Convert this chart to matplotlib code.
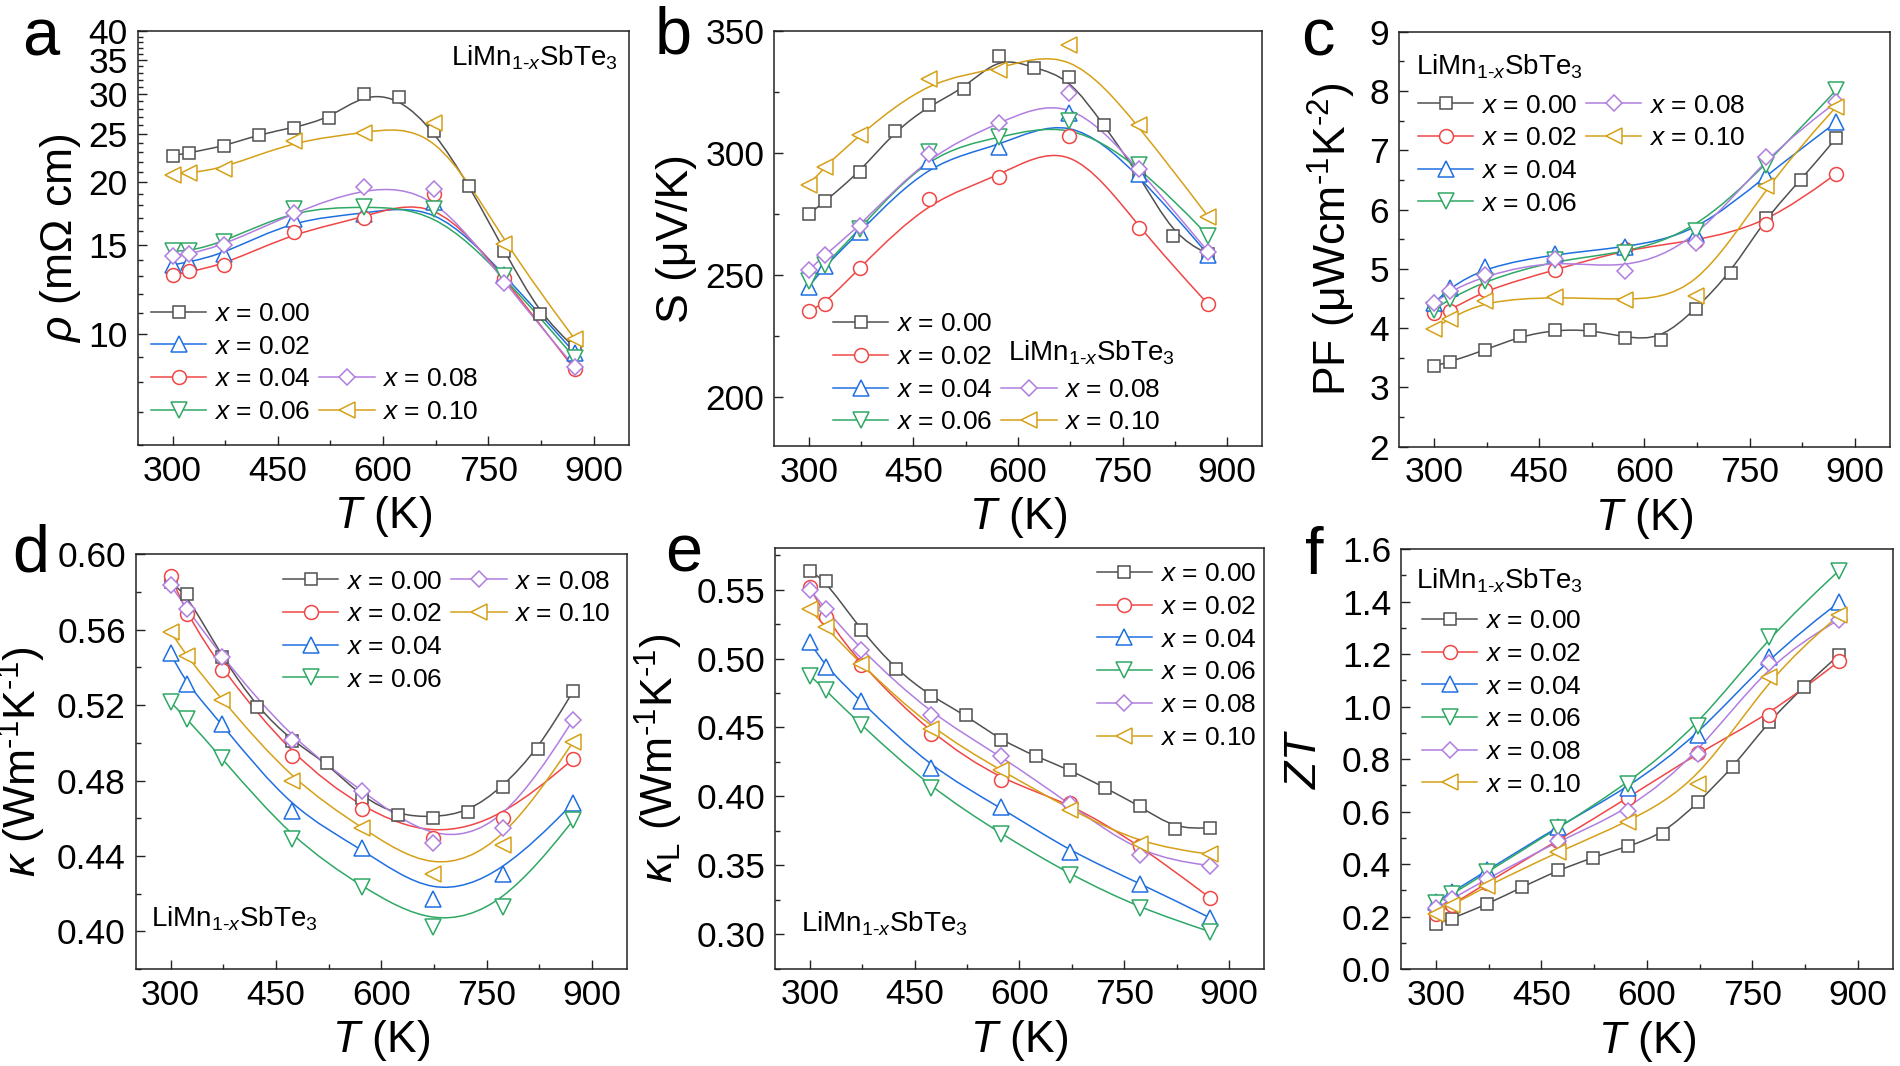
import numpy as np
import matplotlib
matplotlib.use("Agg")
import matplotlib.pyplot as plt
from matplotlib.path import Path
from matplotlib.patches import PathPatch
from matplotlib.lines import Line2D
from matplotlib.ticker import MultipleLocator, FixedLocator, FuncFormatter, NullFormatter

plt.rcParams['font.family'] = ['Liberation Sans', 'DejaVu Sans']
plt.rcParams['mathtext.fontset'] = 'custom'
plt.rcParams['mathtext.rm'] = 'Liberation Sans'
plt.rcParams['mathtext.it'] = 'Liberation Sans:italic'
plt.rcParams['mathtext.bf'] = 'Liberation Sans:bold'
plt.rcParams['mathtext.sf'] = 'Liberation Sans'

# ---------------- data ----------------
T_full = [300, 323, 373, 423, 473, 523, 573, 623, 673, 723, 773, 823, 873]
T_short = [300, 323, 373, 473, 573, 673, 773, 873]
x_labels = ["0.00", "0.02", "0.04", "0.06", "0.08", "0.10"]

# (a) resistivity, mOhm cm  (legend order of panel a: 0.00, 0.02(blue tri), 0.04(red circ), ...)
rho_000 = [22.6, 22.9, 23.6, 24.9, 25.7, 26.8, 30.0, 29.5, 25.3, 19.7, 14.6, 10.96, 9.39]
rho_002 = [13.7, 13.9, 14.4, 16.9, 17.3, 18.3, 13.1, 9.17]
rho_004 = [13.07, 13.3, 13.7, 15.9, 17.0, 19.0, 12.9, 8.5]
rho_006 = [14.6, 14.6, 15.2, 17.7, 17.9, 17.7, 13.0, 8.96]
rho_008 = [14.3, 14.4, 15.0, 17.4, 19.6, 19.4, 12.6, 8.6]
rho_010 = [20.7, 20.9, 21.3, 24.2, 25.1, 26.3, 15.1, 9.77]

# (b) Seebeck, uV/K
S_000 = [275.0, 280.2, 292.2, 308.9, 319.5, 326.4, 339.8, 334.9, 331.1, 311.3, 291.5, 266.1, 258.6]
S_002 = [235.4, 238.3, 253.0, 281.2, 290.0, 307.1, 269.4, 238.0]
S_004 = [245.2, 253.8, 267.5, 296.8, 302.4, 316.5, 291.5, 258.3]
S_006 = [247.7, 254.1, 268.9, 300.3, 306.4, 313.1, 295.3, 266.1]
S_008 = [252.0, 258.3, 270.1, 299.7, 312.3, 324.7, 293.6, 259.5]
S_010 = [287.0, 294.4, 307.5, 330.4, 333.9, 344.1, 311.3, 273.9]

# (c) power factor, uW cm-1 K-2
PF_000 = [3.36, 3.43, 3.63, 3.86, 3.97, 3.97, 3.84, 3.80, 4.32, 4.93, 5.86, 6.50, 7.20]
PF_002 = [4.25, 4.29, 4.65, 4.98, 5.33, 5.47, 5.75, 6.60]
PF_004 = [4.42, 4.68, 5.03, 5.25, 5.36, 5.59, 6.57, 7.47]
PF_006 = [4.31, 4.49, 4.80, 5.15, 5.26, 5.64, 6.75, 8.01]
PF_008 = [4.42, 4.62, 4.89, 5.16, 4.97, 5.44, 6.89, 7.81]
PF_010 = [3.99, 4.16, 4.46, 4.53, 4.47, 4.54, 6.40, 7.73]

# (d) total thermal conductivity, W m-1 K-1
k_000 = [0.585, 0.5788, 0.5456, 0.5188, 0.5009, 0.4891, 0.4708, 0.4617, 0.4604, 0.4631, 0.4766, 0.4967, 0.5274]
k_002 = [0.5885, 0.5684, 0.5387, 0.4931, 0.4648, 0.4498, 0.4602, 0.4914]
k_004 = [0.5474, 0.5310, 0.5100, 0.4639, 0.4440, 0.4173, 0.4307, 0.4681]
k_006 = [0.5215, 0.5128, 0.4918, 0.4489, 0.4234, 0.4024, 0.4130, 0.4589]
k_008 = [0.5836, 0.5712, 0.5456, 0.5015, 0.4745, 0.4467, 0.4549, 0.5122]
k_010 = [0.5589, 0.5460, 0.5228, 0.4799, 0.4547, 0.4307, 0.4456, 0.5005]

# (e) lattice thermal conductivity, W m-1 K-1
kL_000 = [0.5637, 0.5562, 0.5206, 0.4921, 0.4727, 0.4589, 0.4410, 0.4290, 0.4190, 0.4060, 0.3928, 0.3761, 0.3773]
kL_002 = [0.5517, 0.5300, 0.4951, 0.4452, 0.4115, 0.3953, 0.3641, 0.3262]
kL_004 = [0.5118, 0.4939, 0.4689, 0.4203, 0.3921, 0.3596, 0.3367, 0.3117]
kL_006 = [0.4876, 0.4769, 0.4519, 0.4060, 0.3729, 0.3429, 0.3187, 0.3017]
kL_008 = [0.5500, 0.5358, 0.5063, 0.4594, 0.4295, 0.3941, 0.3571, 0.3496]
kL_010 = [0.5358, 0.5226, 0.4959, 0.4490, 0.4190, 0.3903, 0.3654, 0.3579]

# (f) ZT
ZT_000 = [0.173, 0.193, 0.248, 0.313, 0.376, 0.425, 0.468, 0.514, 0.635, 0.770, 0.943, 1.075, 1.196]
ZT_002 = [0.21, 0.245, 0.330, 0.490, 0.652, 0.825, 0.967, 1.172]
ZT_004 = [0.254, 0.294, 0.376, 0.543, 0.689, 0.890, 1.187, 1.397]
ZT_006 = [0.252, 0.285, 0.370, 0.536, 0.707, 0.925, 1.266, 1.517]
ZT_008 = [0.232, 0.268, 0.344, 0.488, 0.602, 0.818, 1.167, 1.331]
ZT_010 = [0.210, 0.245, 0.317, 0.446, 0.560, 0.707, 1.113, 1.347]

# ---------------- styles ----------------
COL = {"k": "#505050", "r": "#f04646", "b": "#1f6fe0", "g": "#2fa865", "p": "#b07ee0", "y": "#d6a017"}
STY = {"k": "s", "r": "o", "b": "^", "g": "v", "p": "D", "y": "<"}
MSZ = {"k": 8.5, "r": 10.0, "b": 11.0, "g": 11.0, "p": 8.6, "y": 11.0}
std_keys = ["k", "r", "b", "g", "p", "y"]
a_keys = ["k", "b", "r", "g", "p", "y"]   # panel a legend pairs 0.02 with triangles, 0.04 with circles

TICK_FS = 25.5
LAB_FS = 32
LEG_FS = 19
ANN_FS = 20
LET_FS = 48
MEW = 1.1

fig = plt.figure(figsize=(19.0, 10.66), dpi=100)
W, H = 1900.0, 1066.0


def make_ax(L, R, Tp, B):
    return fig.add_axes([L / W, 1 - B / H, (R - L) / W, (B - Tp) / H])


def bspline(ax, x, y, color, logy=False):
    X = np.asarray(x, float)
    Y = np.asarray(y, float)
    if logy:
        Y = np.log10(Y)
    Q = np.column_stack([X, Y])
    Q = np.vstack([Q[:1], Q[:1], Q, Q[-1:], Q[-1:]])
    verts, codes = [], []
    for i in range(len(Q) - 3):
        q0, q1, q2, q3 = Q[i], Q[i + 1], Q[i + 2], Q[i + 3]
        b0 = (q0 + 4 * q1 + q2) / 6
        b1 = (2 * q1 + q2) / 3
        b2 = (q1 + 2 * q2) / 3
        b3 = (q1 + 4 * q2 + q3) / 6
        if i == 0:
            verts.append(b0)
            codes.append(Path.MOVETO)
        verts.extend([b1, b2, b3])
        codes.extend([Path.CURVE4] * 3)
    V = np.array(verts)
    if logy:
        V[:, 1] = 10 ** V[:, 1]
    ax.add_patch(PathPatch(Path(V, codes), fill=False, edgecolor=color, lw=1.1, zorder=2))


def handle(key):
    return Line2D([], [], color=COL[key], lw=1.1, marker=STY[key], ms=MSZ[key],
                  mfc="white", mec=COL[key], mew=MEW)


def blank():
    return Line2D([], [], alpha=0)


def style_ax(ax):
    for sp in ax.spines.values():
        sp.set_linewidth(1.1)
        sp.set_color("#222222")
    ax.tick_params(which="both", direction="in", top=False, right=False,
                   labelsize=TICK_FS, width=1.0, color="#222222", pad=7)
    ax.tick_params(which="major", length=6.5)
    ax.tick_params(which="minor", length=3.5)
    ax.set_xlim(250, 950)
    ax.xaxis.set_major_locator(MultipleLocator(150))
    ax.xaxis.set_minor_locator(MultipleLocator(75))
    ax.set_xlabel(r"$T$ (K)", fontsize=LAB_FS)
    ax.xaxis.set_label_coords(0.5, -0.118)


def draw_series(ax, series, keys, logy=False):
    for (T, vals), key in zip(series, keys):
        bspline(ax, T, vals, COL[key], logy=logy)
        ax.plot(T, vals, ls="none", marker=STY[key], ms=MSZ[key], mfc="white",
                mec=COL[key], mew=MEW, zorder=3)


def annot(ax, x, y, ha="left"):
    ax.text(x, y, r"LiMn$_{\text{1-}x}$SbTe$_{\text{3}}$", transform=ax.transAxes,
            fontsize=ANN_FS, ha=ha, va="baseline")


leg_kw = dict(frameon=False, fontsize=LEG_FS, handlelength=2.1, handletextpad=0.3,
              labelspacing=0.33, borderpad=0, borderaxespad=0, columnspacing=0.3)
lab = [r"$x$ = " + s for s in x_labels]

# ---------- (a) ----------
ax = make_ax(137.5, 628.6, 31.0, 445.3)
style_ax(ax)
ax.set_yscale("log")
ax.set_ylim(6, 40)
ax.yaxis.set_major_locator(FixedLocator([10, 15, 20, 25, 30, 35, 40]))
ax.yaxis.set_major_formatter(FuncFormatter(lambda v, p: f"{v:g}"))
ax.yaxis.set_minor_locator(FixedLocator([v for v in range(6, 41) if v not in (10, 15, 20, 25, 30, 35, 40)]))
ax.yaxis.set_minor_formatter(NullFormatter())
series = [(T_full, rho_000), (T_short, rho_002), (T_short, rho_004),
          (T_short, rho_006), (T_short, rho_008), (T_short, rho_010)]
draw_series(ax, series, a_keys, logy=True)
ax.set_ylabel(r"$\rho$ (m$\Omega$ cm)", fontsize=LAB_FS)
ax.yaxis.set_label_coords(-0.11, 0.5)
hs = [handle(k) for k in a_keys]
ax.legend([hs[0], hs[1], hs[2], hs[3], blank(), blank(), hs[4], hs[5]],
          [lab[0], lab[1], lab[2], lab[3], "", "", lab[4], lab[5]],
          ncol=2, loc="upper left", bbox_to_anchor=(0.0275, 0.346), **leg_kw)
annot(ax, 0.978, 0.917, ha="right")

# ---------- (b) ----------
ax = make_ax(774, 1262, 31.0, 446.0)
style_ax(ax)
ax.set_ylim(180, 350)
ax.yaxis.set_major_locator(MultipleLocator(50))
ax.yaxis.set_minor_locator(MultipleLocator(25))
series = [(T_full, S_000), (T_short, S_002), (T_short, S_004),
          (T_short, S_006), (T_short, S_008), (T_short, S_010)]
draw_series(ax, series, std_keys)
ax.set_ylabel("S (μV/K)", fontsize=LAB_FS)
ax.yaxis.set_label_coords(-0.158, 0.5)
hs = [handle(k) for k in std_keys]
ax.legend([hs[0], hs[1], hs[2], hs[3], blank(), blank(), hs[4], hs[5]],
          [lab[0], lab[1], lab[2], lab[3], "", "", lab[4], lab[5]],
          ncol=2, loc="upper left", bbox_to_anchor=(0.121, 0.322), **leg_kw)
annot(ax, 0.479, 0.205)

# ---------- (c) ----------
ax = make_ax(1398.8, 1890.0, 31.7, 446.6)
style_ax(ax)
ax.set_ylim(2, 9)
ax.yaxis.set_major_locator(MultipleLocator(1))
ax.yaxis.set_minor_locator(MultipleLocator(0.5))
series = [(T_full, PF_000), (T_short, PF_002), (T_short, PF_004),
          (T_short, PF_006), (T_short, PF_008), (T_short, PF_010)]
draw_series(ax, series, std_keys)
ax.set_ylabel(r"PF (μWcm$^{\text{-1}}$K$^{\text{-2}}$)", fontsize=LAB_FS)
ax.yaxis.set_label_coords(-0.083, 0.5)
ax.legend([hs[0], hs[1], hs[2], hs[3], hs[4], hs[5], blank(), blank()],
          [lab[0], lab[1], lab[2], lab[3], lab[4], lab[5], "", ""],
          ncol=2, loc="upper left", bbox_to_anchor=(0.039, 0.851), **leg_kw)
annot(ax, 0.035, 0.898)

# ---------- (d) ----------
ax = make_ax(135.5, 627.3, 554.2, 969.2)
style_ax(ax)
ax.set_ylim(0.38, 0.60)
ax.yaxis.set_major_locator(MultipleLocator(0.04))
ax.yaxis.set_minor_locator(MultipleLocator(0.02))
ax.yaxis.set_major_formatter(FuncFormatter(lambda v, p: f"{v:.2f}"))
series = [(T_full, k_000), (T_short, k_002), (T_short, k_004),
          (T_short, k_006), (T_short, k_008), (T_short, k_010)]
draw_series(ax, series, std_keys)
ax.set_ylabel(r"$\kappa$ (Wm$^{\text{-1}}$K$^{\text{-1}}$)", fontsize=LAB_FS)
ax.yaxis.set_label_coords(-0.177, 0.5)
ax.legend([hs[0], hs[1], hs[2], hs[3], hs[4], hs[5], blank(), blank()],
          [lab[0], lab[1], lab[2], lab[3], lab[4], lab[5], "", ""],
          ncol=2, loc="upper left", bbox_to_anchor=(0.30, 0.963), **leg_kw)
annot(ax, 0.031, 0.102)

# ---------- (e) ----------
ax = make_ax(775, 1264, 548.4, 968.5)
style_ax(ax)
ax.set_ylim(0.275, 0.58)
ax.yaxis.set_major_locator(MultipleLocator(0.05))
ax.yaxis.set_minor_locator(MultipleLocator(0.025))
ax.yaxis.set_major_formatter(FuncFormatter(lambda v, p: f"{v:.2f}"))
series = [(T_full, kL_000), (T_short, kL_002), (T_short, kL_004),
          (T_short, kL_006), (T_short, kL_008), (T_short, kL_010)]
draw_series(ax, series, std_keys)
ax.set_ylabel(r"$\kappa_{\mathrm{L}}$ (Wm$^{\text{-1}}$K$^{\text{-1}}$)", fontsize=LAB_FS)
ax.yaxis.set_label_coords(-0.184, 0.5)
ax.legend(hs, lab, ncol=1, loc="upper left", bbox_to_anchor=(0.658, 0.967), **leg_kw)
annot(ax, 0.053, 0.087)

# ---------- (f) ----------
ax = make_ax(1400.8, 1893, 549.0, 969.2)
style_ax(ax)
ax.set_ylim(0.0, 1.6)
ax.yaxis.set_major_locator(MultipleLocator(0.2))
ax.yaxis.set_minor_locator(MultipleLocator(0.1))
ax.yaxis.set_major_formatter(FuncFormatter(lambda v, p: f"{v:.1f}"))
series = [(T_full, ZT_000), (T_short, ZT_002), (T_short, ZT_004),
          (T_short, ZT_006), (T_short, ZT_008), (T_short, ZT_010)]
draw_series(ax, series, std_keys)
ax.set_ylabel(r"$ZT$", fontsize=LAB_FS)
ax.yaxis.set_label_coords(-0.154, 0.5)
ax.legend(hs, lab, ncol=1, loc="upper left", bbox_to_anchor=(0.043, 0.857), **leg_kw)
annot(ax, 0.03, 0.907)

# ---------- panel letters ----------
for s, xp, yp in [("a", 22, 55), ("b", 655, 53), ("c", 1301, 55),
                  ("d", 12, 572), ("e", 665, 571), ("f", 1305, 574)]:
    fig.text(xp / W, 1 - yp / H, s, fontsize=LET_FS, ha="left", va="baseline")

fig.savefig("out.png", dpi=100)
